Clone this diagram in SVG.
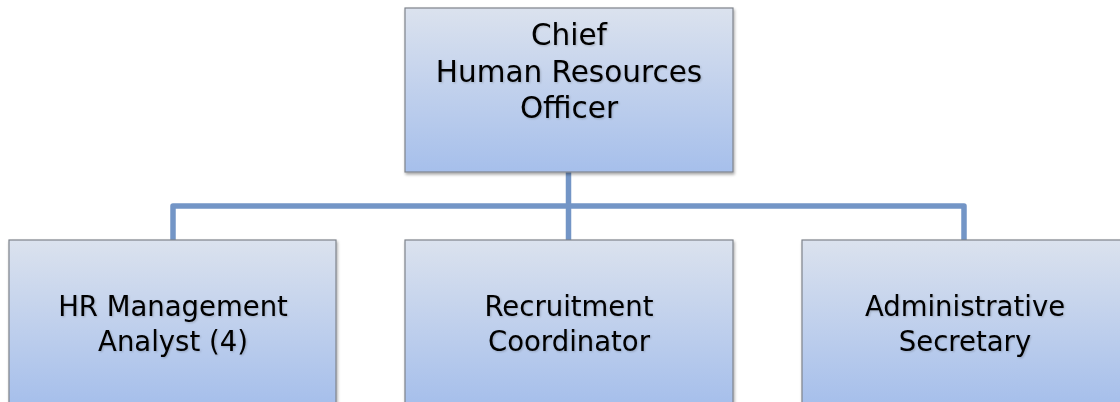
<svg xmlns="http://www.w3.org/2000/svg" width="1120" height="402" viewBox="0 0 1120 402">
  <defs>
    <linearGradient id="boxFill" x1="0" y1="0" x2="0" y2="1">
      <stop offset="0" stop-color="#dbe2ee"/>
      <stop offset="1" stop-color="#a6bfeb"/>
    </linearGradient>
    <linearGradient id="boxFillTall" gradientUnits="userSpaceOnUse" x1="0" y1="240" x2="0" y2="404">
      <stop offset="0" stop-color="#dbe2ee"/>
      <stop offset="1" stop-color="#a6bfeb"/>
    </linearGradient>
    <filter id="shadow" x="-5%" y="-5%" width="110%" height="115%">
      <feGaussianBlur in="SourceAlpha" stdDeviation="1.5"/>
      <feOffset dx="1" dy="2" result="b"/>
      <feComponentTransfer><feFuncA type="linear" slope="0.35"/></feComponentTransfer>
      <feMerge><feMergeNode/><feMergeNode in="SourceGraphic"/></feMerge>
    </filter>
    <filter id="textGlow" x="-5%" y="-20%" width="110%" height="140%">
      <feGaussianBlur in="SourceAlpha" stdDeviation="1.2"/>
      <feOffset dx="0.5" dy="1" result="b"/>
      <feComponentTransfer><feFuncA type="linear" slope="0.2"/></feComponentTransfer>
      <feMerge><feMergeNode/><feMergeNode in="SourceGraphic"/></feMerge>
    </filter>
  </defs>
  <style>
    .box { stroke: #7f848c; stroke-width: 1.2; filter: url(#shadow); }
    .label { font-family: "DejaVu Sans", "Liberation Sans", sans-serif; font-size: 29.5px; fill: #000; text-anchor: middle; filter: url(#textGlow); }
    .label.small { font-size: 27.5px; }
    .conn { fill: none; stroke: #7395c6; stroke-width: 5.5; stroke-linejoin: round; }
  </style>
  <rect width="1120" height="402" fill="#ffffff"/>

  <g id="connectors">
    <path class="conn" d="M568.5 172 V240"/>
    <path class="conn" d="M173 240 V206 H964 V240"/>
  </g>

  <g id="chief-hr-officer">
    <rect class="box" x="405" y="8" width="328" height="164" fill="url(#boxFill)"/>
    <text class="label" x="569" y="45">Chief</text>
    <text class="label" x="569" y="82">Human Resources</text>
    <text class="label" x="569" y="118">Officer</text>
  </g>

  <g id="hr-management-analyst">
    <rect class="box" x="9" y="240" width="327" height="170" fill="url(#boxFillTall)"/>
    <text class="label small" x="173" y="316">HR Management</text>
    <text class="label small" x="173" y="351">Analyst (4)</text>
  </g>

  <g id="recruitment-coordinator">
    <rect class="box" x="405" y="240" width="328" height="170" fill="url(#boxFillTall)"/>
    <text class="label small" x="569" y="316">Recruitment</text>
    <text class="label small" x="569" y="351">Coordinator</text>
  </g>

  <g id="administrative-secretary">
    <rect class="box" x="802" y="240" width="327" height="170" fill="url(#boxFillTall)"/>
    <text class="label small" x="965" y="316">Administrative</text>
    <text class="label small" x="965" y="351">Secretary</text>
  </g>
</svg>
